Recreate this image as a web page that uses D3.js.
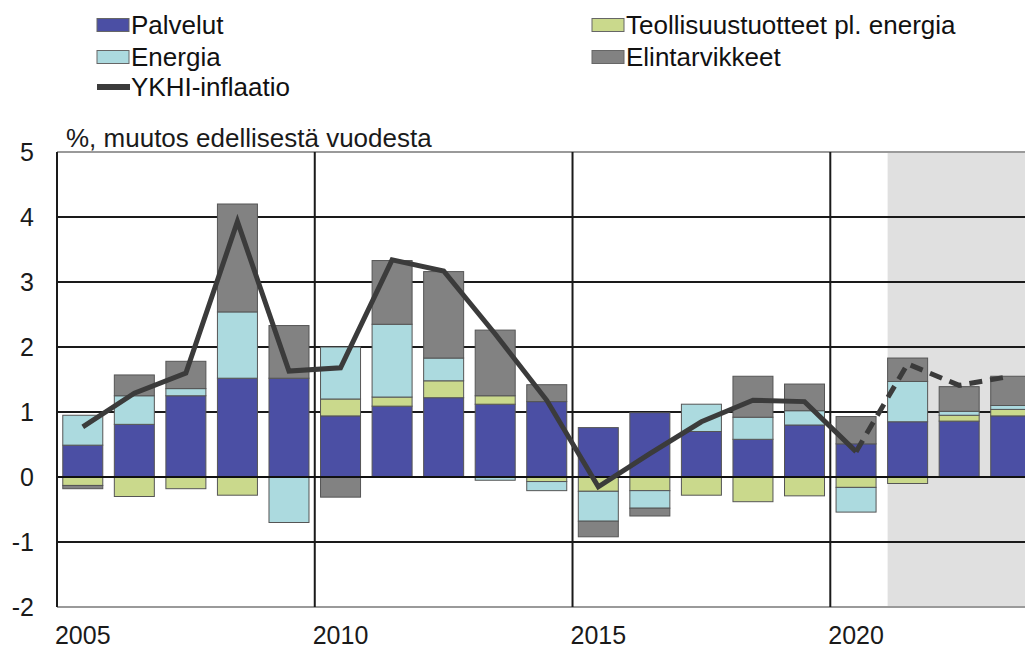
<!DOCTYPE html>
<html>
<head>
<meta charset="utf-8">
<script src="https://cdn.jsdelivr.net/npm/d3@7"></script>
<style>
  body { margin: 0; background: #fff; }
  svg { display: block; font-family: 'Liberation Sans', Arial, sans-serif; }
</style>
</head>
<body>
<div class="canvas"></div>
<script>
// years shown on the axis
const years = [2005, 2006, 2007, 2008, 2009, 2010, 2011, 2012, 2013, 2014,
  2015, 2016, 2017, 2018, 2019, 2020, 2021, 2022, 2023]
const tickYears = [2005, 2010, 2015, 2020]
const yTicks = [-2, -1, 0, 1, 2, 3, 4, 5]

// contributions, %-points
const palvelut = [0.49, 0.81, 1.25, 1.52, 1.52, 0.94, 1.09, 1.22, 1.12, 1.16,
  0.76, 0.99, 0.70, 0.58, 0.80, 0.51, 0.85, 0.86, 0.94]
const teollisuus = [-0.13, -0.30, -0.18, -0.28, 0, 0.26, 0.14, 0.26, 0.13, -0.07,
  -0.22, -0.21, -0.28, -0.38, -0.29, -0.16, -0.10, 0.09, 0.10]
const energia = [0.46, 0.44, 0.11, 1.02, -0.70, 0.80, 1.12, 0.35, -0.05, -0.14,
  -0.46, -0.27, 0.42, 0.34, 0.22, -0.38, 0.62, 0.06, 0.06]
const elintarvikkeet = [-0.05, 0.32, 0.42, 1.66, 0.81, -0.31, 0.98, 1.33, 1.01, 0.26,
  -0.24, -0.12, 0, 0.63, 0.41, 0.42, 0.36, 0.38, 0.45]

// HICP inflation, actual and forecast
const ykhiYears = [2005, 2006, 2007, 2008, 2009, 2010, 2011, 2012, 2013, 2014,
  2015, 2016, 2017, 2018, 2019, 2020]
const ykhi = [0.77, 1.29, 1.6, 3.93, 1.63, 1.68, 3.34, 3.17, 2.2, 1.18,
  -0.15, 0.36, 0.85, 1.18, 1.16, 0.39]
const ennusteYears = [2020, 2021, 2022, 2023]
const ennuste = [0.39, 1.74, 1.41, 1.55]
const forecastFrom = 2021

const keys = ['palvelut', 'teollisuus', 'energia', 'elintarvikkeet']
const labels = {
  palvelut: 'Palvelut',
  teollisuus: 'Teollisuustuotteet pl. energia',
  energia: 'Energia',
  elintarvikkeet: 'Elintarvikkeet'
}
const colours = {
  palvelut: '#4b4fa4',
  teollisuus: '#cad98c',
  energia: '#acdadf',
  elintarvikkeet: '#828282'
}

const table = years.map((year, i) => ({
  year,
  palvelut: palvelut[i],
  teollisuus: teollisuus[i],
  energia: energia[i],
  elintarvikkeet: elintarvikkeet[i]
}))

const width = 1025
const height = 650
const plot = {left: 57, top: 152, right: 1036.5, bottom: 607}

const svg = d3.select('.canvas')
  .append('svg')
  .attr('width', width)
  .attr('height', height)

const x = d3.scaleBand()
  .domain(years)
  .range([plot.left, plot.right])
  .paddingInner(0.224)
  .paddingOuter(0.112)

const y = d3.scaleLinear()
  .domain([-2, 5])
  .range([plot.bottom, plot.top])

const step = x.step()
const bandStart = year => x(year) - step * x.paddingInner() / 2
const centre = year => x(year) + x.bandwidth() / 2

// forecast shading
svg.append('rect')
  .attr('x', x(forecastFrom))
  .attr('y', plot.top)
  .attr('width', width - x(forecastFrom))
  .attr('height', plot.bottom - plot.top)
  .attr('fill', '#e0e0e0')

// horizontal grid
svg.append('g')
  .selectAll('line')
  .data(yTicks.filter(t => t > -2 && t < 5))
  .join('line')
  .attr('x1', plot.left)
  .attr('x2', width)
  .attr('y1', d => y(d))
  .attr('y2', d => y(d))
  .attr('stroke', '#1a1a1a')
  .attr('stroke-width', 2)

// top and bottom frame
svg.append('g')
  .selectAll('line')
  .data([5, -2])
  .join('line')
  .attr('x1', plot.left)
  .attr('x2', width)
  .attr('y1', d => y(d))
  .attr('y2', d => y(d))
  .attr('stroke', '#9a9a9a')
  .attr('stroke-width', 2)

// vertical grid
svg.append('g')
  .selectAll('line')
  .data(tickYears)
  .join('line')
  .attr('x1', d => bandStart(d))
  .attr('x2', d => bandStart(d))
  .attr('y1', plot.top)
  .attr('y2', plot.bottom)
  .attr('stroke', '#1a1a1a')
  .attr('stroke-width', 2)

// stacked bars
const series = d3.stack()
  .keys(keys)
  .offset(d3.stackOffsetDiverging)(table)

svg.append('g')
  .selectAll('g')
  .data(series)
  .join('g')
  .attr('fill', d => colours[d.key])
  .selectAll('rect')
  .data(d => d.filter(s => s[1] !== s[0]))
  .join('rect')
  .attr('x', d => x(d.data.year))
  .attr('width', x.bandwidth())
  .attr('y', d => y(Math.max(d[0], d[1])))
  .attr('height', d => Math.abs(y(d[0]) - y(d[1])))
  .attr('stroke', '#555')
  .attr('stroke-width', 1)

// zero line
svg.append('line')
  .attr('x1', plot.left)
  .attr('x2', width)
  .attr('y1', y(0))
  .attr('y2', y(0))
  .attr('stroke', '#111')
  .attr('stroke-width', 2)

// left axis line
svg.append('line')
  .attr('x1', plot.left)
  .attr('x2', plot.left)
  .attr('y1', plot.top)
  .attr('y2', plot.bottom)
  .attr('stroke', '#1a1a1a')
  .attr('stroke-width', 2)

// inflation line
const line = d3.line()
  .x(d => centre(d[0]))
  .y(d => y(d[1]))

svg.append('path')
  .datum(d3.zip(ykhiYears, ykhi))
  .attr('d', line)
  .attr('fill', 'none')
  .attr('stroke', '#3b3b3b')
  .attr('stroke-width', 5)
  .attr('stroke-linejoin', 'miter')

svg.append('path')
  .datum(d3.zip(ennusteYears, ennuste))
  .attr('d', line)
  .attr('fill', 'none')
  .attr('stroke', '#3b3b3b')
  .attr('stroke-width', 5)
  .attr('stroke-dasharray', '13,8')

// y tick labels
svg.append('g')
  .selectAll('text')
  .data(yTicks)
  .join('text')
  .attr('x', 34)
  .attr('y', d => y(d))
  .attr('dy', '0.36em')
  .attr('text-anchor', 'end')
  .attr('font-size', 25)
  .attr('fill', '#1a1a1a')
  .text(d => d)

// x tick labels
svg.append('g')
  .selectAll('text')
  .data(tickYears)
  .join('text')
  .attr('x', d => centre(d))
  .attr('y', 644)
  .attr('text-anchor', 'middle')
  .attr('font-size', 25)
  .attr('fill', '#1a1a1a')
  .text(d => d)

// unit label
svg.append('text')
  .attr('x', 66)
  .attr('y', 147)
  .attr('font-size', 26)
  .attr('fill', '#1a1a1a')
  .text('%, muutos edellisestä vuodesta')

// legend
const legendItems = [
  {key: 'palvelut', x: 97, y: 25},
  {key: 'energia', x: 97, y: 57},
  {key: 'line', x: 97, y: 87},
  {key: 'teollisuus', x: 592, y: 25},
  {key: 'elintarvikkeet', x: 592, y: 57}
]

const legend = svg.append('g')
  .selectAll('g')
  .data(legendItems)
  .join('g')
  .attr('transform', d => `translate(${d.x}, ${d.y})`)

legend.filter(d => d.key !== 'line')
  .append('rect')
  .attr('x', 0)
  .attr('y', -6.5)
  .attr('width', 32)
  .attr('height', 13)
  .attr('fill', d => colours[d.key])
  .attr('stroke', '#666')
  .attr('stroke-width', 1)

legend.filter(d => d.key === 'line')
  .append('line')
  .attr('x1', 0)
  .attr('x2', 33)
  .attr('stroke', '#3b3b3b')
  .attr('stroke-width', 6)

legend.append('text')
  .attr('x', 34)
  .attr('dy', '0.36em')
  .attr('font-size', 26)
  .attr('fill', '#111')
  .text(d => d.key === 'line' ? 'YKHI-inflaatio' : labels[d.key])
</script>
</body>
</html>
